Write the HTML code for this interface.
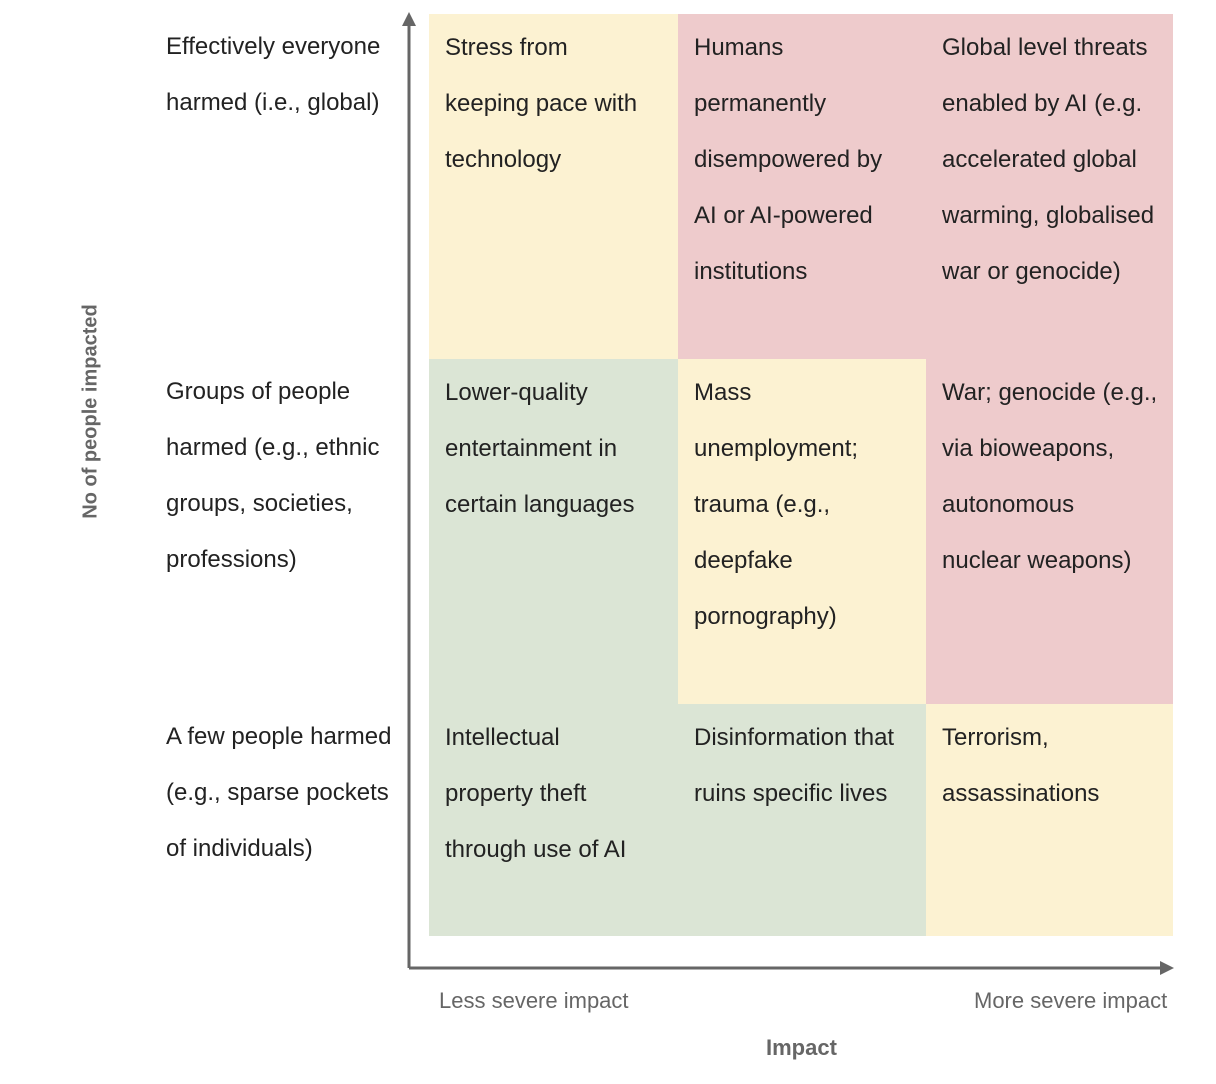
<!DOCTYPE html>
<html><head><meta charset="utf-8"><style>
body{margin:0;width:1216px;height:1084px;background:#fff;position:relative;overflow:hidden;font-family:"Liberation Sans Narrow","Liberation Sans",sans-serif;}
.c{position:absolute;box-sizing:border-box;padding:6px 0 0 16px;font-size:24px;line-height:56px;color:#222;white-space:nowrap;overflow:hidden;}
.y{background:#fcf2d2}.r{background:#eecbcc}.g{background:#dbe5d5}
.l{position:absolute;left:166px;top:0;font-size:24px;line-height:56px;color:#222;white-space:nowrap;}
.ax{position:absolute;font-size:22px;color:#666;white-space:nowrap;}
</style></head><body>
<div class="c y" style="left:429px;top:14px;width:249px;height:345px">Stress from<br>keeping pace with<br>technology</div>
<div class="c r" style="left:678px;top:14px;width:248px;height:345px">Humans<br>permanently<br>disempowered by<br>AI or AI-powered<br>institutions</div>
<div class="c r" style="left:926px;top:14px;width:247px;height:345px">Global level threats<br>enabled by AI (e.g.<br>accelerated global<br>warming, globalised<br>war or genocide)</div>
<div class="c g" style="left:429px;top:359px;width:249px;height:345px">Lower-quality<br>entertainment in<br>certain languages</div>
<div class="c y" style="left:678px;top:359px;width:248px;height:345px">Mass<br>unemployment;<br>trauma (e.g.,<br>deepfake<br>pornography)</div>
<div class="c r" style="left:926px;top:359px;width:247px;height:345px">War; genocide (e.g.,<br>via bioweapons,<br>autonomous<br>nuclear weapons)</div>
<div class="c g" style="left:429px;top:704px;width:249px;height:232px">Intellectual<br>property theft<br>through use of AI</div>
<div class="c g" style="left:678px;top:704px;width:248px;height:232px">Disinformation that<br>ruins specific lives</div>
<div class="c y" style="left:926px;top:704px;width:247px;height:232px">Terrorism,<br>assassinations</div>
<div class="l" style="top:19px">Effectively everyone<br>harmed (i.e., global)</div>
<div class="l" style="top:364px">Groups of people<br>harmed (e.g., ethnic<br>groups, societies,<br>professions)</div>
<div class="l" style="top:709px">A few people harmed<br>(e.g., sparse pockets<br>of individuals)</div>
<svg style="position:absolute;left:0;top:0" width="1216" height="1084">
<line x1="409" y1="24" x2="409" y2="968" stroke="#666" stroke-width="3"/>
<polygon points="402,26 409,12 416,26" fill="#666"/>
<line x1="409" y1="968" x2="1162" y2="968" stroke="#666" stroke-width="3"/>
<polygon points="1160,961 1174,968 1160,975" fill="#666"/>
</svg>
<div class="ax" style="left:439px;top:988px">Less severe impact</div>
<div class="ax" style="left:974px;top:988px">More severe impact</div>
<div class="ax" style="left:766px;top:1035px;font-weight:bold">Impact</div>
<div class="ax" style="left:-19px;top:400px;width:220px;text-align:center;font-weight:bold;font-size:20px;transform:rotate(-90deg)">No of people impacted</div>
</body></html>
